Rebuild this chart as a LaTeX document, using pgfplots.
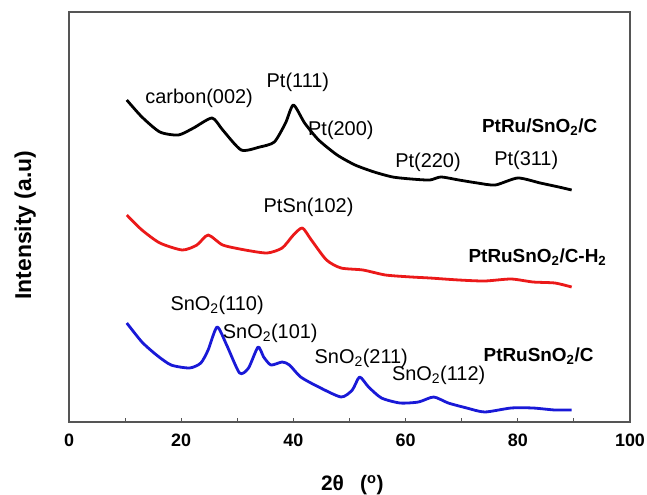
\documentclass[border=0pt]{standalone}
\usepackage{fontspec}
\setmainfont{Liberation Sans}
\usepackage{graphicx}
\usepackage{pgfplots}
\pgfplotsset{compat=1.18}
\definecolor{frame}{RGB}{85,85,85}
\definecolor{cred}{RGB}{235,25,25}
\definecolor{cblue}{RGB}{25,25,215}
\newcommand{\lab}{\fontsize{20}{22}\selectfont}
\newcommand{\blab}{\bfseries\fontsize{19}{22}\selectfont}
\begin{document}
\begin{tikzpicture}
\useasboundingbox (-69bp,-73bp) rectangle (578bp,422bp);
\begin{axis}[
  scale only axis,
  width=561bp, height=410bp,
  xmin=0, xmax=100, ymin=0, ymax=410,
  xtick={0,20,40,60,80,100},
  minor xtick={10,30,50,70,90},
  ytick=\empty,
  xtick pos=bottom,
  tick align=inside,
  major tick length=4bp, minor tick length=4bp,
  every tick/.style={draw=frame, line width=1bp},
  axis line style={draw=frame, line width=1.6bp},
  /pgf/number format/assume math mode=true,
  xticklabel style={font=\bfseries\fontsize{18}{18}\selectfont, yshift=-8bp},
  xlabel={\bfseries\fontsize{21}{22}\selectfont 2θ\enspace\ (\textsuperscript{o})},
  xlabel style={at={(axis description cs:0.505,-0.154)}, anchor=center},
  ylabel={\bfseries\fontsize{23}{25}\selectfont Intensity (a.u)},
  ylabel style={at={(axis description cs:-0.078,0.48)}, anchor=center},
  clip=false,
]
% PtRu/SnO2/C (black)
\addplot[black, line width=2.8bp, smooth, tension=0.4, line join=round] coordinates {
(10.3,322) (13,305) (16.2,290) (19.5,287) (22.2,294) (25.5,304) (27.4,292)
(30.7,272) (34,275) (36.6,280) (38.6,299) (40,317) (42,299) (44.5,282)
(47.8,267) (51,257) (54.4,250) (57.7,245) (61,243) (64.3,242) (66.3,245)
(69.5,242) (72.8,239) (76,237) (80,244) (84,239) (87.3,235) (89.6,232)
};
% PtRuSnO2/C-H2 (red)
\addplot[cred, line width=2.8bp, smooth, tension=0.4, line join=round] coordinates {
(10.3,207) (13,192) (16.2,179) (20.2,172) (22.8,177) (24.8,187) (27.4,177)
(31.4,172) (35.3,169) (38,174) (40,187) (41.6,194) (43.2,182) (45.9,162)
(48.5,154) (52.4,152) (56.4,147) (61,145) (64.3,144) (69.5,142) (74.1,141)
(78.8,143) (82.7,140) (86.6,139) (89.6,135)
};
% PtRuSnO2/C (blue)
\addplot[cblue, line width=2.8bp, smooth, tension=0.4, line join=round] coordinates {
(10.3,99) (13,80) (15.6,67) (18.2,57) (21.5,54) (23.5,59) (24.8,72) (26.4,95)
(28.1,77) (30.4,49) (32,54) (33.7,75) (34.7,65) (36,57) (38,60) (39.3,57)
(41.3,45) (44.5,35) (48.5,25) (50.5,32) (51.8,45) (53.4,35) (55.7,24)
(59,19) (62.3,20) (65,25) (67.6,19) (70.9,14) (74.1,10) (78.8,14)
(82.7,14) (86.6,12) (89.6,12)
};
% annotations
\node[anchor=center] at (axis cs:23.2,324) {\lab carbon(002)};
\node[anchor=center] at (axis cs:40.8,340) {\lab Pt(111)};
\node[anchor=west, inner sep=0pt] at (axis cs:42.6,292) {\lab Pt(200)};
\node[anchor=center] at (axis cs:64,260) {\lab Pt(220)};
\node[anchor=center] at (axis cs:81.5,262) {\lab Pt(311)};
\node[anchor=base] at (axis cs:83.9,290) {\blab PtRu/SnO\textsubscript{2}/C};
\node[anchor=center] at (axis cs:42.7,215) {\lab PtSn(102)};
\node[anchor=base] at (axis cs:83.5,160) {\blab PtRuSnO\textsubscript{2}/C-H\textsubscript{2}};
\node[anchor=base] at (axis cs:26.4,112) {\lab SnO\textsubscript{2}(110)};
\node[anchor=base west, inner sep=0pt] at (axis cs:27.4,84) {\lab SnO\textsubscript{2}(101)};
\node[anchor=base] at (axis cs:52.1,59) {\lab SnO\textsubscript{2}(211)};
\node[anchor=base] at (axis cs:83.7,61) {\blab PtRuSnO\textsubscript{2}/C};
\node[anchor=base] at (axis cs:65.9,42) {\lab SnO\textsubscript{2}(112)};
\end{axis}
\end{tikzpicture}
\end{document}
